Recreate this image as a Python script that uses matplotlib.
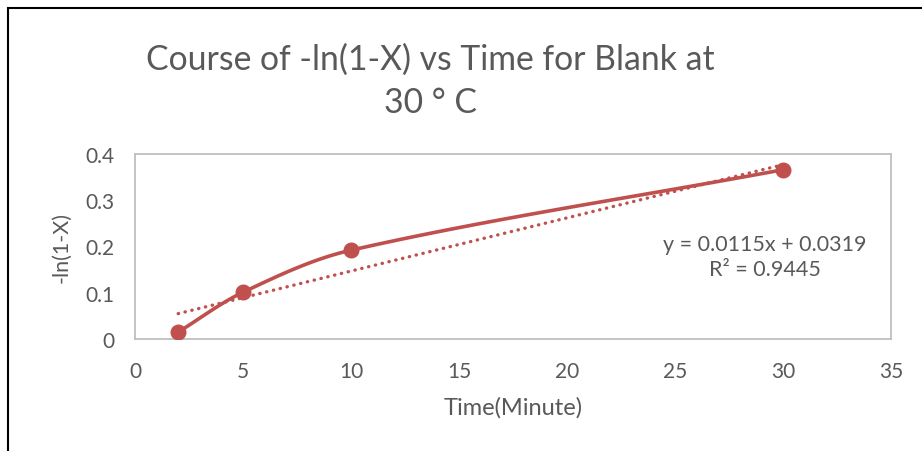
import matplotlib.pyplot as plt
import numpy as np
from matplotlib.patches import Rectangle

# measured conversion data for the blank run at 30 C
time_min = [2, 5, 10, 30]
neg_ln = [0.015, 0.101, 0.192, 0.366]
slope, intercept, r2 = 0.0115, 0.0319, 0.9445

RED = "#C0504D"
GREY_TXT = "#595959"

plt.rcParams["font.family"] = ["Lato", "DejaVu Sans"]


def smooth_curve(ax, xs, ys, steps=40):
    """Bezier smoothing through the points, computed in display space."""
    p = ax.transData.transform(np.column_stack([xs, ys]).astype(float))
    n = len(p)
    tang = []
    for i in range(n):
        d = p[min(i + 1, n - 1)] - p[max(i - 1, 0)]
        tang.append(d / np.hypot(*d))
    out = []
    t = np.linspace(0, 1, steps)[:, None]
    for i in range(n - 1):
        p1, p2 = p[i], p[i + 1]
        L = np.hypot(*(p2 - p1)) / 3.0
        c1 = p1 + tang[i] * L
        c2 = p2 - tang[i + 1] * L
        seg = ((1 - t) ** 3) * p1 + 3 * ((1 - t) ** 2) * t * c1 + 3 * (1 - t) * t ** 2 * c2 + t ** 3 * p2
        out.append(seg)
    out = ax.transData.inverted().transform(np.vstack(out))
    return out[:, 0], out[:, 1]


fig = plt.figure(figsize=(9.22, 4.52), dpi=100)
ax = fig.add_axes([135 / 922, 1 - 340 / 452, (891 - 135) / 922, (340 - 155) / 452])
ax.set_xlim(0, 35)
ax.set_ylim(0, 0.4)

sx, sy = smooth_curve(ax, time_min, neg_ln)
ax.plot(sx, sy, color=RED, lw=2.6, solid_capstyle="round", zorder=3)
ax.plot(time_min, neg_ln, "o", color=RED, ms=10.5, zorder=4)

tx = np.array([min(time_min), max(time_min)])
ax.plot(tx, slope * tx + intercept, color=RED, lw=2.4, linestyle=(0, (0.1, 2.0)),
        dash_capstyle="round", zorder=2)

ax.set_xticks(range(0, 36, 5))
ax.set_yticks([0, 0.1, 0.2, 0.3, 0.4])
ax.set_yticklabels(["0", "0.1", "0.2", "0.3", "0.4"])
ax.tick_params(length=0, labelsize=15, labelcolor=GREY_TXT)
ax.tick_params(axis="x", pad=16)
ax.tick_params(axis="y", pad=15)
for s in ax.spines.values():
    s.set_color("#BFBFBF")
    s.set_linewidth(1.3)

ax.set_xlabel("Time(Minute)", fontsize=17, color=GREY_TXT, labelpad=11)
ax.set_ylabel("-ln(1-X)", fontsize=15.5, color=GREY_TXT, labelpad=10)

ax.text(0.833, 0.446, "y = 0.0115x + 0.0319\nR² = 0.9445", transform=ax.transAxes,
        ha="center", va="center", fontsize=15.5, color=GREY_TXT, linespacing=1.3)

fig.text(430 / 922, 1 - 81 / 452, "Course of -ln(1-X) vs Time for Blank at\n30 ° C",
         ha="center", va="center", fontsize=24.3, color=GREY_TXT, linespacing=1.42)

fig.patches.append(Rectangle((8 / 922, -0.1), 1.2, 1 - 9 / 452 + 0.1, transform=fig.transFigure,
                             fill=False, edgecolor="black", lw=1.5))

fig.savefig("out.png", dpi=100)
